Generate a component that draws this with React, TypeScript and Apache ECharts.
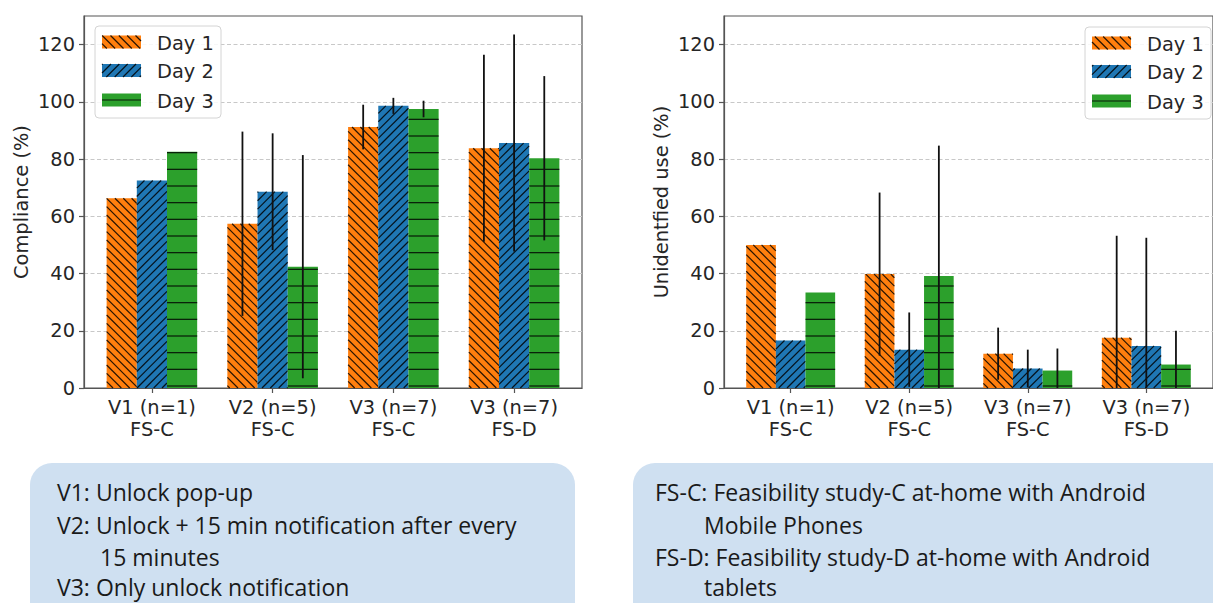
import React, { useEffect, useRef } from "react";
import * as echarts from "echarts";

// ---------- data ----------
const categories = ["V1 (n=1)\nFS-C", "V2 (n=5)\nFS-C", "V3 (n=7)\nFS-C", "V3 (n=7)\nFS-D"];
const seriesNames = ["Day 1", "Day 2", "Day 3"];

const complianceDay1 = [66.3, 57.4, 91.2, 83.8];
const complianceDay2 = [72.5, 68.6, 98.6, 85.6];
const complianceDay3 = [82.6, 42.4, 97.5, 80.3];
const complianceErrDay1: (number | null)[] = [null, 32.2, 7.8, 32.7];
const complianceErrDay2: (number | null)[] = [null, 20.4, 2.8, 37.9];
const complianceErrDay3: (number | null)[] = [null, 39.0, 2.9, 28.7];

const unidentifiedDay1 = [50.0, 39.8, 12.0, 17.6];
const unidentifiedDay2 = [16.6, 13.4, 6.8, 14.7];
const unidentifiedDay3 = [33.4, 39.1, 6.1, 8.2];
const unidentifiedErrDay1: (number | null)[] = [null, 28.5, 9.1, 35.6];
const unidentifiedErrDay2: (number | null)[] = [null, 13.0, 6.6, 37.8];
const unidentifiedErrDay3: (number | null)[] = [null, 45.6, 7.7, 11.8];

const yTicks = [0, 20, 40, 60, 80, 100, 120];
const xTicks = [0, 1, 2, 3];
const yTitles = ["Compliance (%)", "Unidentfied use (%)"];

const leftNotes = [
  { text: "V1: Unlock pop-up", indent: false },
  { text: "V2: Unlock + 15 min notification after every", indent: false },
  { text: "15 minutes", indent: true },
  { text: "V3: Only unlock notification", indent: false },
];
const rightNotes = [
  { text: "FS-C: Feasibility study-C at-home with Android", indent: false },
  { text: "Mobile Phones", indent: true },
  { text: "FS-D: Feasibility study-D at-home with Android", indent: false },
  { text: "tablets", indent: true },
];

// ---------- styling ----------
const COLORS = ["#ff7f0e", "#1f77b4", "#2ca02c"];
const HATCHES = ["back", "fwd", "horiz"];
const OFFSETS = [-0.25, 0, 0.25];
const BAR_W = 0.25;
const FONT = "DejaVu Sans";
const FS = 19.4;
const TXT = "#262626";
const SPINE = "#555";
const DIAG = 100 / 12;
const HORIZ = 100 / 6;
const HATCH_STROKE = "rgba(0,0,0,0.85)";

type Seg = [number, number, number, number];

function hatchSegments(kind: string, x0: number, y0: number, x1: number, y1: number, yRef: number): Seg[] {
  const segs: Seg[] = [];
  if (kind === "back") {
    const cMin = x0 - y1, cMax = x1 - y0;
    for (let k = Math.ceil(cMin / DIAG); k * DIAG <= cMax; k++) {
      const c = k * DIAG;
      const xa = Math.max(x0, y0 + c), xb = Math.min(x1, y1 + c);
      if (xb - xa > 0.3) segs.push([xa, xa - c, xb, xb - c]);
    }
  } else if (kind === "fwd") {
    const cMin = x0 + y0, cMax = x1 + y1;
    for (let k = Math.ceil(cMin / DIAG); k * DIAG <= cMax; k++) {
      const c = k * DIAG;
      const xa = Math.max(x0, c - y1), xb = Math.min(x1, c - y0);
      if (xb - xa > 0.3) segs.push([xa, c - xa, xb, c - xb]);
    }
  } else {
    const kStart = Math.floor((yRef - y1) / HORIZ);
    for (let k = kStart; ; k++) {
      const y = yRef - k * HORIZ;
      if (y < y0 + 1) break;
      if (y <= y1) segs.push([x0, y, x1, y]);
    }
  }
  return segs;
}

function segChildren(segs: Seg[], z?: number) {
  return segs.map((s) => {
    const el: any = {
      type: "line",
      shape: { x1: s[0], y1: s[1], x2: s[2], y2: s[3] },
      style: { stroke: HATCH_STROKE, lineWidth: 1.2 },
    };
    if (z !== undefined) el.z = z;
    return el;
  });
}

function barRenderer(si: number) {
  return (_params: any, api: any) => {
    const idx = api.value(0);
    const v = api.value(1);
    const p0 = api.coord([idx + OFFSETS[si], 0]);
    const p1 = api.coord([idx + OFFSETS[si], v]);
    const w = api.size([BAR_W, 0])[0];
    const x0 = p0[0] - w / 2, x1 = p0[0] + w / 2, y0 = p1[1], y1 = p0[1];
    const children: any[] = [
      { type: "rect", shape: { x: x0, y: y0, width: w, height: y1 - y0 }, style: { fill: COLORS[si] } },
    ];
    children.push(...segChildren(hatchSegments(HATCHES[si], x0, y0, x1, y1, p0[1] - 2)));
    return { type: "group", children };
  };
}

function errRenderer(_params: any, api: any) {
  const x = api.value(0);
  const lo = api.value(1);
  const hi = api.value(2);
  const zero = api.coord([x, 0]);
  const a = api.coord([x, lo]);
  const b = api.coord([x, hi]);
  return {
    type: "line",
    shape: { x1: a[0], y1: Math.min(a[1], zero[1]), x2: b[0], y2: b[1] },
    style: { stroke: "#111", lineWidth: 1.8 },
  };
}

function buildSeries(gi: number, vals: number[][], errs: (number | null)[][]) {
  const out: any[] = [];
  vals.forEach((arr, si) => {
    out.push({
      type: "custom",
      name: seriesNames[si],
      xAxisIndex: gi,
      yAxisIndex: gi,
      silent: true,
      z: 2,
      renderItem: barRenderer(si),
      data: arr.map((v, i) => [i, v]),
    });
  });
  const errData: number[][] = [];
  vals.forEach((arr, si) => {
    arr.forEach((v, i) => {
      const e = errs[si][i];
      if (e !== null && e !== undefined) errData.push([i + OFFSETS[si], v - e, v + e]);
    });
  });
  out.push({
    type: "custom",
    xAxisIndex: gi,
    yAxisIndex: gi,
    silent: true,
    z: 3,
    renderItem: errRenderer,
    data: errData,
  });
  return out;
}

function legendGraphic(bx: number, by: number) {
  const Z = 100;
  const children: any[] = [
    {
      type: "rect",
      z: Z,
      shape: { x: bx, y: by, width: 126, height: 92, r: 4 },
      style: { fill: "rgba(255,255,255,0.85)", stroke: "#d4d4d4", lineWidth: 1 },
    },
  ];
  const rows = [16, 44.5, 74];
  seriesNames.forEach((name, si) => {
    const cy = by + rows[si];
    const px0 = bx + 7, px1 = bx + 46, py0 = cy - 6.5, py1 = cy + 6.5;
    children.push({
      type: "rect",
      z: Z + 1,
      shape: { x: px0, y: py0, width: px1 - px0, height: py1 - py0 },
      style: { fill: COLORS[si] },
    });
    children.push(...segChildren(hatchSegments(HATCHES[si], px0, py0, px1, py1, cy + HORIZ), Z + 2));
    children.push({
      type: "text",
      z: Z + 2,
      style: {
        x: bx + 62,
        y: cy + 1,
        text: name,
        fill: TXT,
        font: `${FS}px "${FONT}"`,
        verticalAlign: "middle",
        align: "left",
      },
    });
  });
  return children;
}

function notesGraphic(bx: number, tx: number, ix: number, notes: { text: string; indent: boolean }[], width: number) {
  const children: any[] = [
    {
      type: "rect",
      z: 90,
      shape: { x: bx, y: 463, width, height: 180, r: 22 },
      style: { fill: "#cfe0f1" },
    },
  ];
  const ys = [492, 524.5, 556.5, 587];
  notes.forEach((n, i) => {
    children.push({
      type: "text",
      z: 91,
      style: {
        x: n.indent ? ix : tx,
        y: ys[i],
        text: n.text,
        fill: "#1a1a1a",
        font: `23px "Open Sans"`,
        lineHeight: 20,
        verticalAlign: "middle",
        align: "left",
      },
    });
  });
  return children;
}

export default function App() {
  const ref = useRef<HTMLDivElement>(null);
  useEffect(() => {
    if (!ref.current) return;
    const chart = echarts.init(ref.current, null, { renderer: "svg" });
    const gridLefts = [84, 724];
    const option: any = {
      animation: false,
      backgroundColor: "#ffffff",
      grid: gridLefts.map((l) => ({
        left: l,
        top: 16,
        width: 498,
        height: 372,
        show: true,
        borderColor: SPINE,
        borderWidth: 1.2,
        backgroundColor: "transparent",
      })),
      xAxis: gridLefts.map((_, gi) => ({
        type: "value",
        gridIndex: gi,
        min: -0.5625,
        max: 3.5625,
        axisLine: { show: true, onZero: false, lineStyle: { color: SPINE, width: 1.2 } },
        axisTick: { show: true, customValues: xTicks, length: 5, lineStyle: { color: SPINE, width: 1.2 } },
        axisLabel: {
          customValues: xTicks,
          formatter: (v: number) => categories[Math.round(v)] ?? "",
          fontSize: FS,
          fontFamily: FONT,
          color: TXT,
          lineHeight: 22,
          margin: 8,
        },
        splitLine: { show: false },
      })),
      yAxis: gridLefts.map((_, gi) => ({
        type: "value",
        gridIndex: gi,
        min: 0,
        max: 130,
        interval: 20,
        name: yTitles[gi],
        nameLocation: "middle",
        nameGap: 53,
        nameTextStyle: { fontSize: FS, fontFamily: FONT, color: TXT },
        axisLine: { show: true, onZero: false, lineStyle: { color: SPINE, width: 1.2 } },
        axisTick: { show: true, customValues: yTicks, length: 5, lineStyle: { color: SPINE, width: 1.2 } },
        axisLabel: {
          customValues: yTicks,
          fontSize: FS,
          fontFamily: FONT,
          color: TXT,
          margin: 9,
        },
        splitLine: { show: true, lineStyle: { color: "#c8c8c8", width: 1, type: [4, 2.5] } },
      })),
      series: [
        ...buildSeries(
          0,
          [complianceDay1, complianceDay2, complianceDay3],
          [complianceErrDay1, complianceErrDay2, complianceErrDay3]
        ),
        ...buildSeries(
          1,
          [unidentifiedDay1, unidentifiedDay2, unidentifiedDay3],
          [unidentifiedErrDay1, unidentifiedErrDay2, unidentifiedErrDay3]
        ),
      ],
      graphic: [
        ...legendGraphic(95, 26),
        ...legendGraphic(1085, 27),
        ...notesGraphic(30, 57, 100, leftNotes, 545),
        ...notesGraphic(633, 655, 704, rightNotes, 640),
      ],
    };
    chart.setOption(option);
    return () => chart.dispose();
  }, []);
  return (
    <div
      ref={ref}
      style={{ position: "fixed", left: 0, top: 0, width: 1213, height: 603, background: "#fff" }}
    />
  );
}
